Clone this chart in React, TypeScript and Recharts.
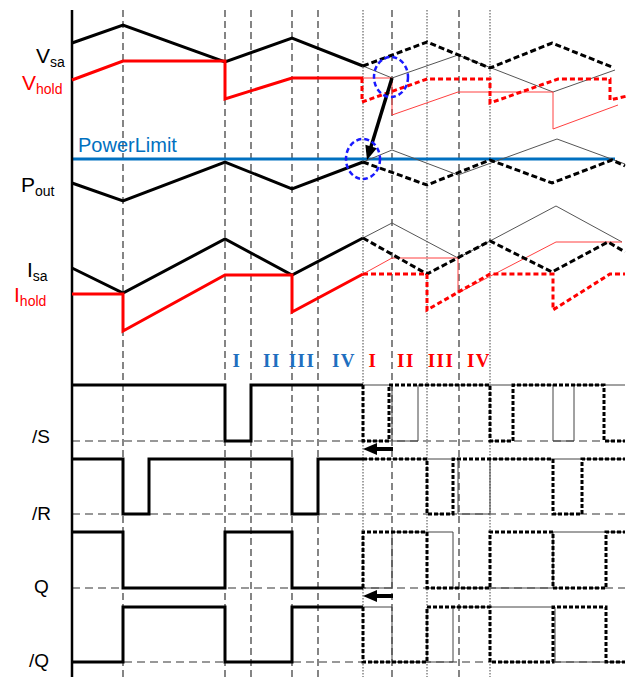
import React from "react";
import { LineChart, Line, XAxis, YAxis, ReferenceLine, ReferenceDot } from "recharts";

// waveform vertices (x = time, y = level in screen units)
const VSA = [[72, 43], [123, 25], [225, 62], [292, 38], [363, 66]];
const VSA_THIN = [[363, 66], [392, 78], [458, 55], [553, 92], [615, 70]];
const VSA_DASH = [[363, 66], [427, 42], [490, 68], [552, 43], [612, 67]];
const VHOLD = [[72, 80], [123, 61], [225, 61], [225, 99], [292, 78], [363, 78]];
const VHOLD_THIN = [[363, 78], [392, 78], [392, 115], [458, 92], [553, 92], [553, 129], [618, 105]];
const VHOLD_DASH = [[362, 78], [362, 102], [427, 79], [490, 79], [490, 103], [558, 79], [610, 79], [610, 100], [627, 96]];

const POUT = [[72, 183], [123, 201], [225, 162], [292, 189], [363, 162]];
const POUT_THIN = [[363, 162], [392, 150], [458, 175], [557, 139], [625, 164]];
const POUT_DASH = [[363, 162], [427, 185], [490, 160], [552, 183], [612, 160], [625, 166]];

const ISA = [[72, 268], [123, 293], [225, 239], [292, 275], [363, 238]];
const ISA_THIN = [[363, 238], [392, 223], [458, 258], [556, 206], [622, 242]];
const ISA_DASH = [[363, 238], [427, 274], [490, 241], [552, 272], [608, 242], [625, 252]];
const IHOLD = [[72, 294], [123, 294], [123, 331], [225, 275], [292, 275], [292, 312], [363, 274]];
const IHOLD_THIN = [[363, 274], [392, 258], [458, 258], [458, 293], [556, 242], [622, 242]];
const IHOLD_DASH = [[363, 274], [427, 274], [427, 310], [490, 274], [553, 274], [553, 310], [610, 274], [625, 274]];

const S_SOLID = [[72, 385], [225, 385], [225, 441], [251, 441], [251, 385], [363, 385]];
const S_THIN = [[363, 385], [392, 385], [392, 441], [418, 441], [418, 385], [553, 385], [553, 441], [574, 441], [574, 385], [625, 385]];
const S_DASH = [[363, 385], [363, 441], [389, 441], [389, 385], [490, 385], [490, 441], [513, 441], [513, 385], [604, 385], [604, 441], [625, 441]];

const R_SOLID = [[72, 459], [123, 459], [123, 514], [149, 514], [149, 459], [292, 459], [292, 514], [318, 514], [318, 459], [363, 459]];
const R_THIN = [[363, 459], [458, 459], [458, 514], [490, 514], [490, 459], [625, 459]];
const R_DASH = [[363, 459], [427, 459], [427, 514], [453, 514], [453, 459], [553, 459], [553, 514], [582, 514], [582, 459], [625, 459]];

const Q_SOLID = [[72, 532], [123, 532], [123, 588], [225, 588], [225, 532], [292, 532], [292, 588], [363, 588]];
const Q_THIN = [[363, 588], [392, 588], [392, 532], [453, 532], [453, 588], [553, 588], [553, 532], [625, 532]];
const Q_DASH = [[363, 588], [363, 532], [427, 532], [427, 588], [490, 588], [490, 532], [553, 532], [553, 588], [606, 588], [606, 532], [625, 532]];

const QB_SOLID = [[72, 662], [123, 662], [123, 607], [225, 607], [225, 662], [292, 662], [292, 607], [363, 607]];
const QB_THIN = [[363, 607], [392, 607], [392, 662], [453, 662], [453, 607], [555, 607], [555, 662], [625, 662]];
const QB_DASH = [[363, 607], [363, 662], [427, 662], [427, 607], [490, 607], [490, 662], [553, 662], [553, 607], [606, 607], [606, 662], [625, 662]];

const DASHED_TIMES = [123, 225, 251, 292, 318, 392, 459];
const DOTTED_TIMES = [363, 427, 490];
const BASELINES = [441, 514, 588, 662];
const POWER_LIMIT = 159;

const BIG_ARROW = [[392, 78], [370, 150]];
const ARROW_S = [[393, 449], [372, 449]];
const ARROW_Q = [[393, 596], [372, 596]];

const PHASES = ["I", "II", "III", "IV"];
const PHASE_X_BLUE = [237, 272, 302, 344];
const PHASE_X_RED = [373, 406, 441, 479];

const RED = "#ff0000";
const BLUE = "#0070c0";
const NUM_BLUE = "#1f6fbf";

const pts = (a: number[][]) => a.map(([x, y]) => ({ x, y }));

function ring(props: any) {
  const { cx, cy } = props;
  return (
    <ellipse cx={cx} cy={cy} rx={17} ry={20} fill="none" stroke="#1a1aff" strokeWidth={2.5} strokeDasharray="5 3" />
  );
}

function head(angle: number) {
  return (props: any) => (
    <g transform={`translate(${props.cx},${props.cy}) rotate(${angle})`}>
      <polygon points="0,0 -14,-6 -14,6" fill="#000" />
    </g>
  );
}

export default function App() {
  const sans = "'Liberation Sans', Arial, sans-serif";
  const serif = "'Liberation Serif', 'Times New Roman', serif";
  const line = (d: number[][], stroke: string, w: number, dash?: string) => (
    <Line
      data={pts(d)}
      dataKey="y"
      type="linear"
      stroke={stroke}
      strokeWidth={w}
      strokeDasharray={dash}
      strokeLinejoin="miter"
      dot={false}
      activeDot={false}
      isAnimationActive={false}
    />
  );

  return (
    <div style={{ position: "absolute", left: 0, top: 0, width: 632, height: 677, background: "#fff" }}>
      <LineChart width={632} height={677} margin={{ top: 0, right: 0, bottom: 0, left: 0 }}>
        <XAxis dataKey="x" type="number" domain={[0, 632]} hide allowDataOverflow />
        <YAxis type="number" domain={[0, 677]} reversed hide allowDataOverflow />
        {DASHED_TIMES.map((t) => (
          <ReferenceLine key={"d" + t} segment={[{ x: t, y: 10 }, { x: t, y: 677 }]} stroke="#222" strokeWidth={1.1} strokeDasharray="7 4" />
        ))}
        {DOTTED_TIMES.map((t) => (
          <ReferenceLine key={"o" + t} segment={[{ x: t, y: 10 }, { x: t, y: 677 }]} stroke="#444" strokeWidth={1} strokeDasharray="1.5 1.5" />
        ))}
        {BASELINES.map((b) => (
          <ReferenceLine key={"b" + b} segment={[{ x: 72, y: b }, { x: 625, y: b }]} stroke="#777" strokeWidth={1.3} strokeDasharray="8 5" />
        ))}
        <ReferenceLine segment={[{ x: 72, y: POWER_LIMIT }, { x: 615, y: POWER_LIMIT }]} stroke={BLUE} strokeWidth={3} />
        <ReferenceLine segment={[{ x: 72, y: 10 }, { x: 72, y: 677 }]} stroke="#000" strokeWidth={2.5} />

        {line(VSA_THIN, "#555", 1)}
        {line(VHOLD_THIN, "#ff4040", 1)}
        {line(POUT_THIN, "#555", 1)}
        {line(ISA_THIN, "#555", 1)}
        {line(IHOLD_THIN, "#ff4040", 1)}
        {line(S_THIN, "#444", 1)}
        {line(R_THIN, "#444", 1)}
        {line(Q_THIN, "#444", 1)}
        {line(QB_THIN, "#444", 1)}

        {line(VSA_DASH, "#000", 3, "6 3")}
        {line(VHOLD_DASH, RED, 3, "5 3")}
        {line(POUT_DASH, "#000", 3, "6 3")}
        {line(ISA_DASH, "#000", 3, "6 3")}
        {line(IHOLD_DASH, RED, 3, "5 3")}
        {line(S_DASH, "#000", 3, "4 2")}
        {line(R_DASH, "#000", 3, "4 2")}
        {line(Q_DASH, "#000", 3, "4 2")}
        {line(QB_DASH, "#000", 3, "4 2")}

        {line(VSA, "#000", 3)}
        {line(VHOLD, RED, 3)}
        {line(POUT, "#000", 3)}
        {line(ISA, "#000", 3)}
        {line(IHOLD, RED, 3)}
        {line(S_SOLID, "#000", 3)}
        {line(R_SOLID, "#000", 3)}
        {line(Q_SOLID, "#000", 3)}
        {line(QB_SOLID, "#000", 3)}

        {line(BIG_ARROW, "#000", 3.5)}
        {line(ARROW_S, "#000", 4)}
        {line(ARROW_Q, "#000", 4)}
        <ReferenceDot x={367} y={160} r={1} shape={head(107)} />
        <ReferenceDot x={363} y={449} r={1} shape={head(180)} />
        <ReferenceDot x={363} y={596} r={1} shape={head(180)} />
        <ReferenceDot x={391} y={77} r={1} shape={ring} />
        <ReferenceDot x={363} y={159} r={1} shape={ring} />
      </LineChart>

      <svg width={632} height={677} style={{ position: "absolute", left: 0, top: 0, pointerEvents: "none" }}>
        <g fontFamily={sans}>
          <text x={36} y={63} fontSize={21} fill="#000">V<tspan fontSize={14} dy={4}>sa</tspan></text>
          <text x={22} y={90} fontSize={21} fill={RED}>V<tspan fontSize={14} dy={4}>hold</tspan></text>
          <text x={78} y={152} fontSize={20} fill={BLUE}>PowerLimit</text>
          <text x={21} y={192} fontSize={21} fill="#000">P<tspan fontSize={14} dy={4}>out</tspan></text>
          <text x={27} y={277} fontSize={21} fill="#000">I<tspan fontSize={14} dy={4}>sa</tspan></text>
          <text x={14} y={302} fontSize={21} fill={RED}>I<tspan fontSize={14} dy={4}>hold</tspan></text>
          <text x={32} y={443} fontSize={19} fill="#000">/S</text>
          <text x={32} y={520} fontSize={19} fill="#000">/R</text>
          <text x={34} y={593} fontSize={19} fill="#000">Q</text>
          <text x={29} y={667} fontSize={19} fill="#000">/Q</text>
        </g>
        <g fontFamily={serif} fontWeight="bold" fontSize={19} textAnchor="middle" letterSpacing={1.5}>
          {PHASES.map((p, i) => (
            <text key={"b" + p} x={PHASE_X_BLUE[i]} y={367} fill={NUM_BLUE}>{p}</text>
          ))}
          {PHASES.map((p, i) => (
            <text key={"r" + p} x={PHASE_X_RED[i]} y={367} fill={RED}>{p}</text>
          ))}
        </g>
      </svg>
    </div>
  );
}
